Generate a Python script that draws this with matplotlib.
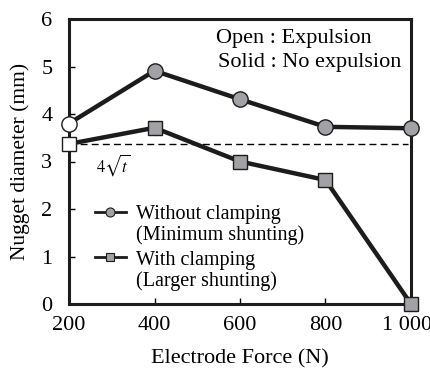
import matplotlib
matplotlib.use("Agg")
import matplotlib.pyplot as plt
from matplotlib.lines import Line2D
from matplotlib.transforms import ScaledTranslation

plt.rcParams['font.family'] = ['Liberation Serif', 'DejaVu Serif']
plt.rcParams['mathtext.fontset'] = 'stix'

force = [200, 400, 600, 800, 1000]
without_clamp = [3.80, 4.91, 4.31, 3.73, 3.70]
with_clamp = [3.37, 3.71, 3.00, 2.61, 0.0]
without_expulsion = [True, False, False, False, False]   # open markers = expulsion
with_expulsion = [True, False, False, False, False]
limit_4sqrt_t = 3.37
xtick_labels = ['200', '400', '600', '800', '1 000']

gray = '#a2a2a6'
dark = '#1c1c1c'

fig = plt.figure(figsize=(4.31, 3.71), dpi=100)
ax = fig.add_axes([69/431, 1-304/371, (411-69)/431, (304-19)/371])

ax.axhline(limit_4sqrt_t, xmax=0.99, color='black', lw=1.0, ls=(0, (5, 3)), zorder=1)

ax.plot(force, without_clamp, color=dark, lw=3.2, zorder=2, clip_on=False)
ax.plot(force, with_clamp, color=dark, lw=3.2, zorder=2, clip_on=False)
for x, y, op in zip(force, without_clamp, without_expulsion):
    ax.plot(x, y, marker='o', ms=11, mfc='white' if op else gray, mec=dark, mew=1.0,
            zorder=3, clip_on=False)
for x, y, op in zip(force, with_clamp, with_expulsion):
    ax.plot(x, y, marker='s', ms=10.5, mfc='white' if op else gray, mec=dark, mew=1.0,
            zorder=3, clip_on=False)

ax.set_xlim(200, 1000)
ax.set_ylim(0, 6)
ax.set_xticks(force)
ax.set_xticklabels(xtick_labels)
ax.set_yticks([0, 1, 2, 3, 4, 5, 6])
ax.tick_params(direction='in', length=4, width=1.0, labelsize=16)
ax.tick_params(axis='x', pad=9)
ax.tick_params(axis='y', pad=12)
for lab in ax.get_yticklabels():
    lab.set_verticalalignment('center_baseline')
last = ax.get_xticklabels()[-1]
last.set_transform(last.get_transform() + ScaledTranslation(-4/100, 0, fig.dpi_scale_trans))
for s in ax.spines.values():
    s.set_linewidth(2.2)
    s.set_color(dark)

ax.set_xlabel('Electrode Force (N)', fontsize=16, labelpad=10)
ax.set_ylabel('Nugget diameter (mm)', fontsize=15.5, labelpad=8)

ax.text(262, 2.93, r'$4\sqrt{t}$', fontsize=12, ha='left', va='center')
ax.text(0.43, 0.93, 'Open : Expulsion', transform=ax.transAxes, fontsize=16, ha='left', va='center')
ax.text(0.436, 0.846, 'Solid : No expulsion', transform=ax.transAxes, fontsize=16, ha='left', va='center')

h1 = Line2D([], [], color=dark, lw=2, marker='o', ms=6.5, mfc=gray, mec=dark, mew=0.8)
h2 = Line2D([], [], color=dark, lw=2, marker='s', ms=6, mfc=gray, mec=dark, mew=0.8)
blank = Line2D([], [], color='none')
leg_kw = dict(frameon=False, fontsize=14.5, handlelength=1.55, handletextpad=0.5,
              labelspacing=0.08, borderpad=0.0, borderaxespad=0.0, loc='upper left')
leg1 = ax.legend([h1, blank], ['Without clamping', '(Minimum shunting)'],
                 bbox_to_anchor=(0.075, 0.348), **leg_kw)
ax.add_artist(leg1)
leg2 = ax.legend([h2, blank], ['With clamping', '(Larger shunting)'],
                 bbox_to_anchor=(0.075, 0.188), **leg_kw)

fig.savefig('out.png', dpi=100)
